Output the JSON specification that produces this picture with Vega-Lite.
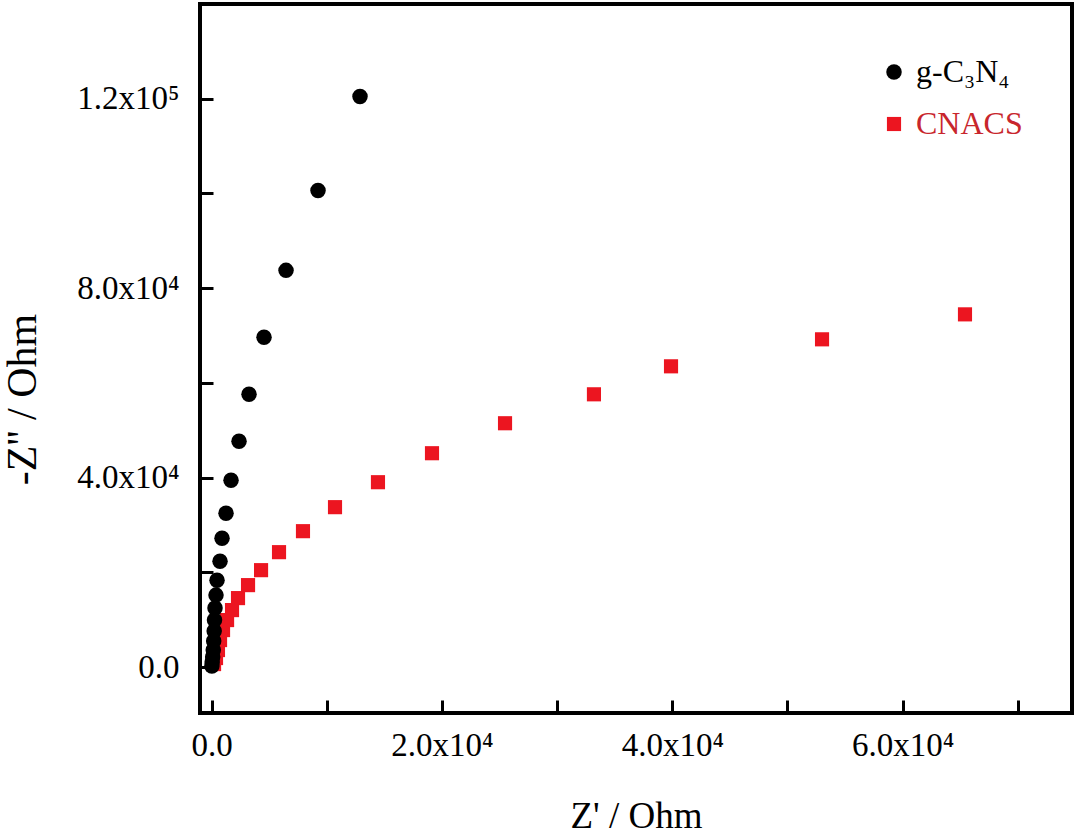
{
  "$schema": "https://vega.github.io/schema/vega-lite/v6.json",
  "description": "Nyquist plots of g-C3N4 and CNACS",
  "autosize": {"type": "none"},
  "padding": {"left": 200, "top": 4, "right": 8, "bottom": 124},
  "width": 872,
  "height": 709,
  "background": "white",
  "config": {
    "view": {"stroke": "black", "strokeWidth": 4},
    "font": "Liberation Serif",
    "axis": {
      "grid": false,
      "domain": false,
      "tickColor": "black",
      "tickWidth": 3,
      "tickSize": -13,
      "labelFont": "Liberation Serif",
      "labelFontSize": 33,
      "labelColor": "black",
      "titleFont": "Liberation Serif",
      "titleFontWeight": "normal",
      "titleColor": "black"
    },
    "legend": {
      "labelColor": {"expr": "datum.value === 'CNACS' ? '#c8262c' : '#000000'"}
    }
  },
  "data": {
    "values": [
      {"series": "CNACS", "zre": 65410, "zim": 74470},
      {"series": "CNACS", "zre": 53000, "zim": 69200},
      {"series": "CNACS", "zre": 39890, "zim": 63500},
      {"series": "CNACS", "zre": 33200, "zim": 57590},
      {"series": "CNACS", "zre": 25480, "zim": 51480},
      {"series": "CNACS", "zre": 19140, "zim": 45150},
      {"series": "CNACS", "zre": 14450, "zim": 39030},
      {"series": "CNACS", "zre": 10720, "zim": 33760},
      {"series": "CNACS", "zre": 7940, "zim": 28690},
      {"series": "CNACS", "zre": 5860, "zim": 24260},
      {"series": "CNACS", "zre": 4300, "zim": 20460},
      {"series": "CNACS", "zre": 3170, "zim": 17300},
      {"series": "CNACS", "zre": 2300, "zim": 14560},
      {"series": "CNACS", "zre": 1780, "zim": 12030},
      {"series": "CNACS", "zre": 1350, "zim": 9920},
      {"series": "CNACS", "zre": 1000, "zim": 7810},
      {"series": "CNACS", "zre": 740, "zim": 5700},
      {"series": "CNACS", "zre": 560, "zim": 3590},
      {"series": "CNACS", "zre": 390, "zim": 1900},
      {"series": "CNACS", "zre": 220, "zim": 630},
      {"series": "g-C₃N₄", "zre": 12890, "zim": 120460},
      {"series": "g-C₃N₄", "zre": 9245, "zim": 100630},
      {"series": "g-C₃N₄", "zre": 6467, "zim": 83760},
      {"series": "g-C₃N₄", "zre": 4557, "zim": 69620},
      {"series": "g-C₃N₄", "zre": 3255, "zim": 57590},
      {"series": "g-C₃N₄", "zre": 2387, "zim": 47680},
      {"series": "g-C₃N₄", "zre": 1693, "zim": 39450},
      {"series": "g-C₃N₄", "zre": 1259, "zim": 32490},
      {"series": "g-C₃N₄", "zre": 911, "zim": 27210},
      {"series": "g-C₃N₄", "zre": 738, "zim": 22360},
      {"series": "g-C₃N₄", "zre": 477, "zim": 18350},
      {"series": "g-C₃N₄", "zre": 390, "zim": 15190},
      {"series": "g-C₃N₄", "zre": 304, "zim": 12450},
      {"series": "g-C₃N₄", "zre": 260, "zim": 9920},
      {"series": "g-C₃N₄", "zre": 230, "zim": 7600},
      {"series": "g-C₃N₄", "zre": 190, "zim": 5490},
      {"series": "g-C₃N₄", "zre": 150, "zim": 3590},
      {"series": "g-C₃N₄", "zre": 100, "zim": 2110},
      {"series": "g-C₃N₄", "zre": 60, "zim": 1050},
      {"series": "g-C₃N₄", "zre": 30, "zim": 210}
    ]
  },
  "mark": {"type": "point", "filled": true, "opacity": 1, "strokeWidth": 0},
  "encoding": {
    "x": {
      "field": "zre",
      "type": "quantitative",
      "scale": {"domain": [-1000, 74700], "nice": false, "zero": false},
      "axis": {
        "title": "Z' / Ohm",
        "titleFontSize": 37,
        "titleBaseline": "alphabetic",
        "titleY": 114,
        "values": [0, 10000, 20000, 30000, 40000, 50000, 60000, 70000],
        "labelExpr": "datum.value === 0 ? '0.0' : datum.value === 20000 ? '2.0x10⁴' : datum.value === 40000 ? '4.0x10⁴' : datum.value === 60000 ? '6.0x10⁴' : ''",
        "labelPadding": 29,
        "encode": {"ticks": {"y2": {"value": {"expr": "datum.value % 20000 === 0 ? -13 : -7"}}}}
      }
    },
    "y": {
      "field": "zim",
      "type": "quantitative",
      "scale": {"domain": [-9700, 140000], "nice": false, "zero": false},
      "axis": {
        "title": "-Z'' / Ohm",
        "titleFontSize": 42,
        "titleBaseline": "alphabetic",
        "titleAngle": -90,
        "titleX": -165,
        "titleY": 395,
        "values": [0, 20000, 40000, 60000, 80000, 100000, 120000],
        "labelExpr": "datum.value === 0 ? '0.0' : datum.value === 40000 ? '4.0x10⁴' : datum.value === 80000 ? '8.0x10⁴' : datum.value === 120000 ? '1.2x10⁵' : ''",
        "labelPadding": 34,
        "encode": {"ticks": {"x2": {"value": {"expr": "datum.value % 40000 === 0 ? 13 : 7"}}}}
      }
    },
    "color": {
      "field": "series",
      "type": "nominal",
      "scale": {"domain": ["g-C₃N₄", "CNACS"], "range": ["#000000", "#ec1520"]},
      "legend": {
        "title": null,
        "orient": "none",
        "legendX": 678,
        "legendY": 52,
        "labelFont": "Liberation Serif",
        "labelFontSize": 32,
        "symbolSize": 220,
        "symbolStrokeWidth": 0,
        "labelOffset": 6,
        "rowPadding": 20
      }
    },
    "shape": {
      "field": "series",
      "type": "nominal",
      "scale": {"domain": ["g-C₃N₄", "CNACS"], "range": ["circle", "square"]}
    },
    "size": {
      "field": "series",
      "type": "nominal",
      "scale": {"domain": ["g-C₃N₄", "CNACS"], "range": [240, 200]},
      "legend": null
    }
  }
}
